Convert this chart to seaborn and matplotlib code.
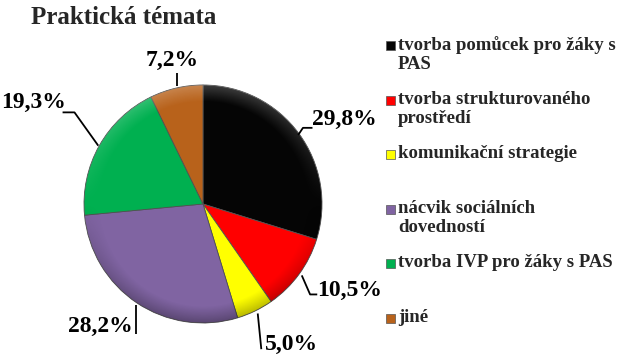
import numpy as np
import matplotlib
matplotlib.use("Agg")
import matplotlib.pyplot as plt
import seaborn as sns
from matplotlib.patches import Rectangle, Circle

sns.set_theme(style="white")
plt.rcParams['font.family'] = ['Liberation Serif', 'DejaVu Serif']

title = "Praktická témata"
categories = ["tvorba pomůcek pro žáky s\nPAS",
              "tvorba strukturovaného\nprostředí",
              "komunikační strategie",
              "nácvik sociálních\ndovedností",
              "tvorba IVP pro žáky s PAS",
              "jiné"]
values = [29.8, 10.5, 5.0, 28.2, 19.3, 7.2]
value_labels = ["29,8%", "10,5%", "5,0%", "28,2%", "19,3%", "7,2%"]
colors = ["#050505", "#FF0000", "#FFFF00", "#8064A2", "#00B050", "#B8621B"]

W, H = 632, 355
fig = plt.figure(figsize=(W / 100, H / 100), dpi=100)
fig.patch.set_facecolor("white")

# pie axes: centre (203, 204 from top), radius 119 px
R = 119.0
lim = 1.7
side = 2 * lim * R
cx, cy = 203, H - 204
ax = fig.add_axes([(cx - side / 2) / W, (cy - side / 2) / H, side / W, side / H])

wedges, _ = ax.pie(values, colors=colors, startangle=90, counterclock=False,
                   radius=1.0, wedgeprops=dict(linewidth=0.6, edgecolor="#505050"))
ax.set_xlim(-lim, lim)
ax.set_ylim(-lim, lim)
ax.set_aspect("equal")
ax.axis("off")

# subtle bevel: darker rim at the bottom, lighter rim at the top
g = np.linspace(-1, 1, 400)
gx, gy = np.meshgrid(g, g[::-1])
rr = np.hypot(gx, gy)
rim = np.clip((rr - 0.86) / 0.14, 0, 1)
shade = np.zeros((400, 400, 4))
dark = rim * np.clip(-gy, 0, 1) * 0.30
light = rim * np.clip(gy, 0, 1) * 0.22
shade[..., :3] = (light / np.maximum(light + dark, 1e-6))[..., None]
shade[..., 3] = light + dark
img = ax.imshow(shade, extent=[-1, 1, -1, 1], zorder=3, interpolation="bilinear")
img.set_clip_path(Circle((0, 0), 1.0, transform=ax.transData))

# labels with leader lines
text_pos = [(1.19, 0.71), (1.23, -0.73), (0.74, -1.18), (-0.86, -1.03), (-1.42, 0.85), (-0.26, 1.21)]
line_pts = [
    [(0.80, 0.58), (0.84, 0.64), (0.92, 0.64)],
    [(0.83, -0.60), (0.90, -0.76), (0.96, -0.76)],
    [(0.46, -0.92), (0.49, -1.22)],
    [(-0.56, -0.85), (-0.56, -1.09)],
    [(-0.88, 0.49), (-1.08, 0.77), (-1.18, 0.77)],
    [(-0.22, 0.99), (-0.22, 1.10)],
]
for lbl, (tx, ty), pts in zip(value_labels, text_pos, line_pts):
    xs, ys = zip(*pts)
    ax.plot(xs, ys, color="black", lw=1.3, solid_capstyle="butt", zorder=4)
    ax.text(tx, ty, lbl, ha="center", va="center",
            fontsize=17, fontweight="bold", color="black")

# title
fig.text(124 / W, 1 - 17 / H, title, ha="center", va="center",
         fontsize=18, fontweight="bold")

# legend (manual)
leg_x = 398
leg_y0 = 45
leg_step = 54.6
for i, (cat, col) in enumerate(zip(categories, colors)):
    y = leg_y0 + i * leg_step
    fig.patches.append(Rectangle(((leg_x - 12) / W, 1 - (y + 5) / H), 9 / W, 9 / H,
                                 transform=fig.transFigure, facecolor=col,
                                 edgecolor="#555555", linewidth=0.5))
    fig.text(leg_x / W, 1 - (y - 9) / H, cat, ha="left", va="top",
             fontsize=13.5, fontweight="bold", linespacing=1.15)

fig.savefig("out.png", dpi=100, facecolor="white")
